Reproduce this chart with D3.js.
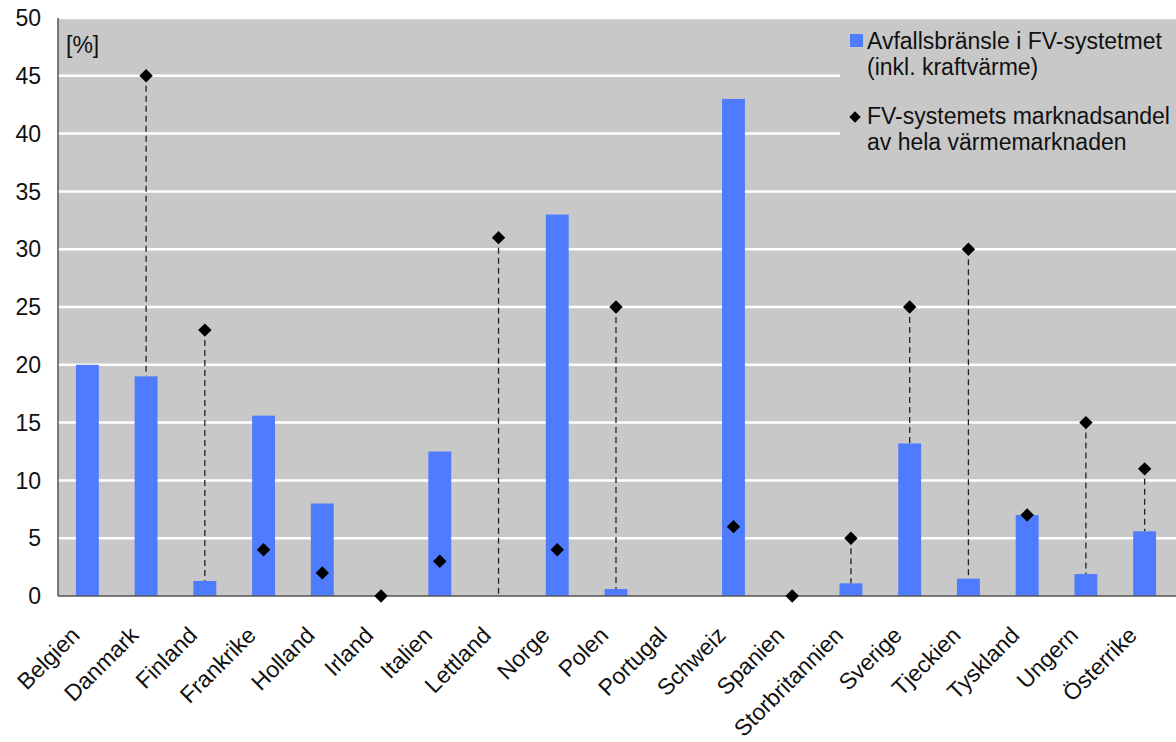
<!DOCTYPE html>
<html><head><meta charset="utf-8">
<script src="https://cdn.jsdelivr.net/npm/d3@7"></script>
<style>body{margin:0;background:#fff}svg{display:block;font-family:"Liberation Sans",Arial,sans-serif}</style>
</head><body><svg id="c" width="1176" height="742"></svg>
<script>
const categories = ["Belgien","Danmark","Finland","Frankrike","Holland","Irland","Italien","Lettland","Norge","Polen","Portugal","Schweiz","Spanien","Storbritannien","Sverige","Tjeckien","Tyskland","Ungern","Österrike"];
const wasteFuel = [20,19,1.3,15.6,8,0,12.5,0,33,0.6,0,43,0,1.1,13.2,1.5,7,1.9,5.6];
const marketShare = [null,45,23,4,2,0,3,31,4,25,null,6,0,5,25,30,7,15,11];
const yTicks = [0,5,10,15,20,25,30,35,40,45,50];
const legendLines1 = ["Avfallsbränsle i FV-systetmet","(inkl. kraftvärme)"];
const legendLines2 = ["FV-systemets marknadsandel","av hela värmemarknaden"];

const svg = d3.select("#c");
const L=58, R=1174, T=18, B=596;
const FS=23;
const x = d3.scaleBand().domain(categories).range([L,R]).paddingInner(0.61).paddingOuter(0.305);
const y = d3.scaleLinear().domain([0,50]).range([B,T]);

svg.append("rect").attr("x",L).attr("y",T).attr("width",1176-L).attr("height",B-T).attr("fill","#c8c8c8");
svg.append("g").selectAll("line").data(yTicks.filter(d=>d>0)).join("line")
  .attr("x1",L).attr("x2",1176).attr("y1",d=>y(d)).attr("y2",d=>y(d))
  .attr("stroke","#fff").attr("stroke-width",2.5);

// legend background
svg.append("rect").attr("x",840).attr("y",24).attr("width",336).attr("height",140).attr("fill","#c8c8c8");

// y labels
svg.append("g").selectAll("text").data(yTicks).join("text")
  .attr("x",41).attr("y",d=>y(d)).attr("dy","0.36em").attr("text-anchor","end")
  .attr("font-size",FS).attr("fill","#111").text(d=>d);

const bw = x.bandwidth();
const cx = c => x(c)+bw/2;

// dashed connector lines
svg.append("g").selectAll("line").data(categories.map((c,i)=>({c,b:wasteFuel[i],m:marketShare[i]})).filter(d=>d.m!==null&&d.m>d.b))
  .join("line").attr("x1",d=>cx(d.c)).attr("x2",d=>cx(d.c)).attr("y1",d=>y(d.m)).attr("y2",d=>y(d.b))
  .attr("stroke","#222").attr("stroke-width",1.3).attr("stroke-dasharray","6,4");

// bars
svg.append("g").selectAll("rect").data(categories.map((c,i)=>({c,v:wasteFuel[i]}))).join("rect")
  .attr("x",d=>x(d.c)).attr("width",bw).attr("y",d=>y(d.v)).attr("height",d=>B-y(d.v)).attr("fill","#4f7cff");

// axes lines
svg.append("line").attr("x1",L).attr("x2",L).attr("y1",T).attr("y2",B).attr("stroke","#555").attr("stroke-width",1.5);
svg.append("line").attr("x1",L).attr("x2",1176).attr("y1",B).attr("y2",B).attr("stroke","#555").attr("stroke-width",1.5);

// diamonds
const diamond = d3.symbol().type(d3.symbolSquare).size(90);
svg.append("g").selectAll("path").data(categories.map((c,i)=>({c,v:marketShare[i]})).filter(d=>d.v!==null)).join("path")
  .attr("d",diamond).attr("transform",d=>`translate(${cx(d.c)},${y(d.v)}) rotate(45)`).attr("fill","#000");

// [%]
svg.append("text").attr("x",66).attr("y",53).attr("font-size",FS).attr("fill","#111").text("[%]");

// category labels
svg.append("g").selectAll("text").data(categories).join("text")
  .attr("transform",c=>`translate(${cx(c)-12},${B+35}) rotate(-45)`)
  .attr("text-anchor","end").attr("dy","0.35em").attr("font-size",FS).attr("fill","#111").text(c=>c);

// legend
svg.append("rect").attr("x",850).attr("y",34).attr("width",13).attr("height",13).attr("fill","#4f7cff");
legendLines1.forEach((t,i)=>svg.append("text").attr("x",867).attr("y",49+i*26).attr("font-size",FS).attr("fill","#111").text(t));
svg.append("path").attr("d",d3.symbol().type(d3.symbolSquare).size(64)()).attr("transform","translate(855,117) rotate(45)").attr("fill","#000");
legendLines2.forEach((t,i)=>svg.append("text").attr("x",867).attr("y",124+i*26).attr("font-size",FS).attr("fill","#111").text(t));
</script></body></html>
